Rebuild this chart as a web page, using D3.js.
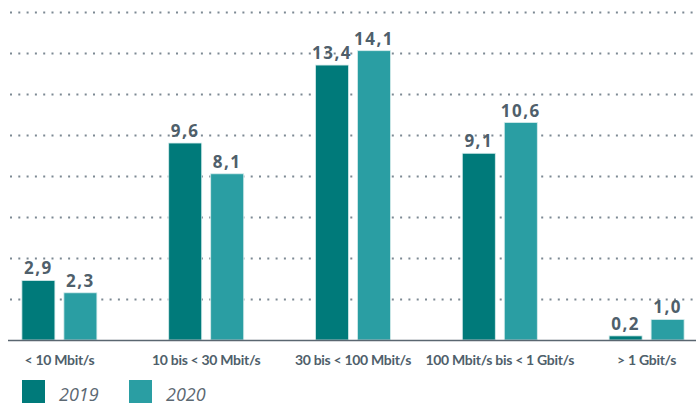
<!DOCTYPE html>
<html>
<head>
<meta charset="utf-8">
<script src="https://cdn.jsdelivr.net/npm/d3@7"></script>
<style>
  html, body { margin: 0; padding: 0; background: #fff; }
  svg { display: block; }
</style>
</head>
<body>
<svg id="chart" width="696" height="407"></svg>
<script>
// Breitband-Anschlüsse nach Geschwindigkeitsklasse (Mio.)
const categories = ["< 10 Mbit/s", "10 bis < 30 Mbit/s", "30 bis < 100 Mbit/s", "100 Mbit/s bis < 1 Gbit/s", "> 1 Gbit/s"];
const years = ["2019", "2020"];
const values2019 = [2.9, 9.6, 13.4, 9.1, 0.2];
const values2020 = [2.3, 8.1, 14.1, 10.6, 1.0];
const gridTicks = [2, 4, 6, 8, 10, 12, 14, 16];
const colors = ["#007a7a", "#2a9ea3"];

const series = [values2019, values2020];
const data = categories.map((c, i) => ({
  category: c,
  values: years.map((y, j) => ({ year: y, value: series[j][i] }))
}));

const svg = d3.select("#chart");
const textColor = "#4f5f6b";

const x0 = d3.scaleBand().domain(categories).range([-14, 720]);
const groupWidth = 75;
const x1 = d3.scaleBand().domain(years).range([0, groupWidth]).paddingInner(0.214).paddingOuter(0);
const y = d3.scaleLinear().domain([0, 16]).range([340, 11.7]);

// dotted horizontal gridlines
const grid = svg.append("g");
grid.selectAll("line")
  .data(gridTicks)
  .join("line")
  .attr("x1", 10)
  .attr("x2", 696)
  .attr("y1", d => Math.round(y(d)) + 0.5)
  .attr("y2", d => Math.round(y(d)) + 0.5)
  .attr("stroke", "#7d8993")
  .attr("stroke-width", 2)
  .attr("stroke-dasharray", "2 6.3");

// bars
const groups = svg.append("g").selectAll("g")
  .data(data)
  .join("g")
  .attr("transform", d => `translate(${x0(d.category) + (x0.bandwidth() - groupWidth) / 2},0)`);

groups.selectAll("rect")
  .data(d => d.values)
  .join("rect")
  .attr("x", d => x1(d.year))
  .attr("y", d => y(d.value))
  .attr("width", x1.bandwidth())
  .attr("height", d => y(0) - y(d.value))
  .attr("fill", (d, i) => colors[i])
  .attr("stroke", "#d6ecec")
  .attr("stroke-width", 0.8);

// value labels
groups.selectAll("text.value")
  .data(d => d.values)
  .join("text")
  .attr("class", "value")
  .attr("x", d => x1(d.year) + x1.bandwidth() / 2)
  .attr("y", d => y(d.value) - 6)
  .attr("text-anchor", "middle")
  .attr("fill", textColor)
  .style("font-family", "'Open Sans', 'DejaVu Sans', sans-serif")
  .style("font-weight", "700")
  .style("font-size", "17px")
  .style("letter-spacing", "1.5px")
  .text(d => d3.format(".1f")(d.value).replace(".", ","));

// baseline
svg.append("line")
  .attr("x1", 8).attr("x2", 696)
  .attr("y1", y(0) + 0.5).attr("y2", y(0) + 0.5)
  .attr("stroke", "#5a6670")
  .attr("stroke-width", 1.6);

// category axis
const xAxis = svg.append("g")
  .attr("transform", `translate(0,${y(0)})`)
  .call(d3.axisBottom(x0).tickSize(0).tickPadding(0));
xAxis.select(".domain").remove();
xAxis.selectAll("text")
  .attr("y", 25)
  .attr("dy", 0)
  .attr("fill", textColor)
  .style("font-family", "Lato, 'Open Sans', sans-serif")
  .style("font-weight", "700")
  .style("font-size", "14px")
  .style("letter-spacing", "-0.3px");

// legend
const legend = svg.append("g").attr("transform", "translate(22,380)");
const items = legend.selectAll("g")
  .data(years)
  .join("g")
  .attr("transform", (d, i) => `translate(${i * 107},0)`);
items.append("rect")
  .attr("width", 23).attr("height", 23)
  .attr("fill", (d, i) => colors[i]);
items.append("text")
  .attr("x", 37)
  .attr("y", 21)
  .attr("fill", "#5c6872")
  .style("font-family", "'Open Sans', Lato, sans-serif")
  .style("font-style", "italic")
  .style("font-size", "18px")
  .text(d => d);
</script>
</body>
</html>
